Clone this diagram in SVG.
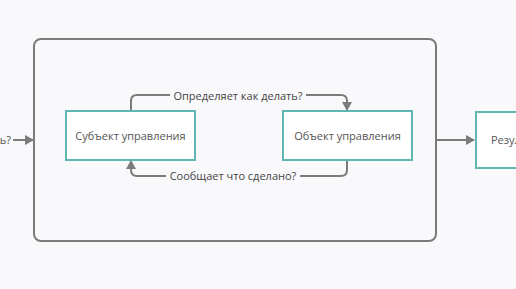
<svg xmlns="http://www.w3.org/2000/svg" width="516" height="289" viewBox="0 0 516 289">
<style>
.bg{fill:#f9f9fb}
.frame{fill:none;stroke:#7b7b7b;stroke-width:2}
.node{fill:#ffffff;stroke:#5fb6b2;stroke-width:2}
.t{font-family:"Open Sans","Noto Sans",sans-serif;font-size:11px;fill:#555555}
.c{fill:none;stroke:#7b7b7b;stroke-width:2}
.lbl{font-family:"Open Sans","Noto Sans",sans-serif;font-size:11px;fill:#444444}
</style>
<defs>
<marker id="ah" markerWidth="10" markerHeight="10" refX="8" refY="5" orient="auto" markerUnits="userSpaceOnUse">
<path d="M0,0 L9,5 L0,10 Z" fill="#7b7b7b"/>
</marker>
</defs>
<rect class="bg" x="0" y="0" width="516" height="289"/>
<g id="frame">
<rect class="frame" x="34" y="39" width="402" height="202" rx="7"/>
</g>
<g id="connectors">
<path class="c" d="M13,140 H33" marker-end="url(#ah)"/>
<path class="c" d="M131,111 V101 Q131,95 137,95 H170"/>
<path class="c" d="M306,95 H341 Q347,95 347,101 V110" marker-end="url(#ah)"/>
<path class="c" d="M347,160 V170 Q347,176 341,176 H300"/>
<path class="c" d="M166,176 H137 Q131,176 131,170 V161" marker-end="url(#ah)"/>
<path class="c" d="M436,140 H474" marker-end="url(#ah)"/>
<text class="lbl" x="238" y="100" text-anchor="middle">Определяет как делать?</text>
<text class="lbl" x="233" y="180" text-anchor="middle">Сообщает что сделано?</text>
</g>
<g id="input">
<text class="t" x="11" y="144" text-anchor="end">ь?</text>
</g>
<g id="subject">
<rect class="node" x="66" y="111" width="129" height="49"/>
<text class="t" x="130.5" y="139.5" text-anchor="middle">Субъект управления</text>
</g>
<g id="object">
<rect class="node" x="283" y="111" width="129" height="49"/>
<text class="t" x="347.5" y="139.5" text-anchor="middle">Объект управления</text>
</g>
<g id="result">
<rect class="node" x="476" y="112" width="60" height="56"/>
<text class="t" x="491" y="144">Результат</text>
</g>
</svg>
